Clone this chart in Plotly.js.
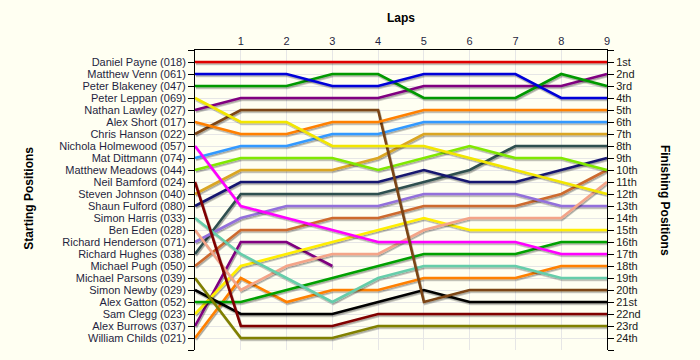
<!DOCTYPE html>
<html>
<head>
<meta charset="utf-8">
<script src="https://cdn.plot.ly/plotly-3.0.1.min.js"></script>
<style>
html, body { margin:0; padding:0; background:#fffff2; }
#chart { width:700px; height:360px; }
.js-plotly-plot .scatterlayer .trace path.js-line { filter: url(#sh); }
</style>
</head>
<body>
<svg width="0" height="0" style="position:absolute">
  <defs>
    <filter id="sh" filterUnits="userSpaceOnUse" x="-100" y="-100" width="2000" height="2000">
      <feDropShadow dx="1" dy="1.6" stdDeviation="0.3" flood-color="#000" flood-opacity="0.35"/>
    </filter>
  </defs>
</svg>
<div id="chart"></div>
<script>
// ---- data ----
const laps = [0, 1, 2, 3, 4, 5, 6, 7, 8, 9];
const lapTicks = [1, 2, 3, 4, 5, 6, 7, 8, 9];

const drivers = [
  "Daniel Payne (018)", "Matthew Venn (061)", "Peter Blakeney (047)", "Peter Leppan (069)",
  "Nathan Lawley (027)", "Alex Short (017)", "Chris Hanson (022)", "Nichola Holmewood (057)",
  "Mat Dittmann (074)", "Matthew Meadows (044)", "Neil Bamford (024)", "Steven Johnson (040)",
  "Shaun Fulford (080)", "Simon Harris (033)", "Ben Eden (028)", "Richard Henderson (071)",
  "Richard Hughes (038)", "Michael Pugh (050)", "Michael Parsons (039)", "Simon Newby (029)",
  "Alex Gatton (052)", "Sam Clegg (023)", "Alex Burrows (037)", "William Childs (021)"
];

const finishLabels = ["1st","2nd","3rd","4th","5th","6th","7th","8th","9th","10th","11th","12th",
  "13th","14th","15th","16th","17th","18th","19th","20th","21st","22nd","23rd","24th"];

// position per lap (lap 0 = start)
const payne      = [1, 1, 1, 1, 1, 1, 1, 1, 1, 1];
const venn       = [2, 2, 2, 3, 3, 2, 2, 2, 4, 4];
const blakeney   = [3, 3, 3, 2, 2, 4, 4, 4, 2, 3];
const leppan     = [4, 6, 6, 8, 8, 8, 9, 10, 11, 12];
const lawley     = [5, 4, 4, 4, 4, 3, 3, 3, 3, 2];
const short      = [6, 7, 7, 6, 6, 5, 5, 5, 5, 5];
const hanson     = [7, 5, 5, 5, 5, 21, 20, 20, 20, 20];
const holmewood  = [8, 13, 14, 15, 16, 16, 16, 16, 17, 17];
const dittmann   = [9, 8, 8, 7, 7, 6, 6, 6, 6, 6];
const meadows    = [10, 9, 9, 9, 10, 9, 8, 9, 9, 10];
const bamford    = [11, 23, 23, 23, 22, 22, 22, 22, 22, 22];
const johnson    = [12, 10, 10, 10, 9, 7, 7, 7, 7, 7];
const fulford    = [13, 11, 11, 11, 11, 10, 11, 11, 10, 9];
const harris     = [14, 17, 19, 21, 19, 18, 18, 18, 19, 19];
const eden       = [15, 20, 18, 17, 17, 15, 14, 14, 14, 11];
const henderson  = [16, 14, 13, 13, 13, 12, 12, 12, 13, 13];
const hughes     = [17, 12, 12, 12, 12, 11, 10, 8, 8, 8];
const pugh       = [18, 15, 15, 14, 14, 13, 13, 13, 12, 10];
const parsons    = [19, 24, 24, 24, 23, 23, 23, 23, 23, 23];
const newby      = [20, 22, 22, 22, 21, 20, 21, 21, 21, 21];
const gatton     = [21, 21, 20, 19, 18, 17, 17, 17, 16, 16];
const clegg      = [22, 18, 17, 16, 15, 14, 15, 15, 15, 15];
const burrows    = [23, 16, 16, 18, null, null, null, null, null, null];
const childs     = [24, 19, 21, 20, 20, 19, 19, 19, 18, 18];

const series = [payne, venn, blakeney, leppan, lawley, short, hanson, holmewood,
  dittmann, meadows, bamford, johnson, fulford, harris, eden, henderson,
  hughes, pugh, parsons, newby, gatton, clegg, burrows, childs];

// ---- styles ----
const colors = ["#e00000", "#0000d8", "#009900", "#f2e600", "#800080", "#ff8000", "#7b4513", "#ff00ff",
  "#3399ff", "#80e800", "#800000", "#daa520", "#191970", "#66cdaa", "#f4a488", "#9370db",
  "#2f4f4f", "#cd6a2e", "#808000", "#000000", "#00a000", "#ffee00", "#800080", "#ff8000"];

const traces = [];
for (let i = series.length - 1; i >= 0; i--) {
  traces.push({
    type: "scatter", mode: "lines", x: laps, y: series[i], name: drivers[i],
    line: { color: colors[i], width: 2.6 }, connectgaps: false, hoverinfo: "skip"
  });
}

const startVals = [0].concat(drivers.map((d, i) => i + 1)).concat([25]);
const startText = [""].concat(drivers).concat([""]);
const finishText = [""].concat(finishLabels).concat([""]);

const fontFam = "Liberation Sans, Arial, sans-serif";
const layout = {
  width: 700, height: 360,
  margin: { l: 195, r: 93, t: 50, b: 10 },
  paper_bgcolor: "#fffff2", plot_bgcolor: "#fffff2",
  showlegend: false,
  font: { family: fontFam, size: 11, color: "#1f1f3f" },
  xaxis: {
    side: "top", range: [0, 9], tickvals: lapTicks, ticktext: lapTicks.map(String),
    showline: true, linecolor: "#000", linewidth: 1, ticks: "",
    showgrid: true, gridcolor: "#e6e6e6", gridwidth: 1, zeroline: false,
    tickfont: { size: 11, color: "#1f1f3f" }, fixedrange: true
  },
  yaxis: {
    range: [25, 0], tickvals: startVals, ticktext: startText,
    showline: true, linecolor: "#000", linewidth: 1, ticks: "outside", ticklen: 6,
    tickcolor: "#000", tickwidth: 1,
    showgrid: true, gridcolor: "#e6e6e6", gridwidth: 1, zeroline: false,
    tickfont: { size: 11, color: "#1f1f3f" }, fixedrange: true
  },
  yaxis2: {
    overlaying: "y", side: "right", range: [25, 0], tickvals: startVals, ticktext: finishText,
    showline: true, linecolor: "#000", linewidth: 1, ticks: "outside", ticklen: 6,
    tickcolor: "#000", tickwidth: 1, showgrid: false, zeroline: false,
    tickfont: { size: 11, color: "#1a1a1a" }, fixedrange: true
  },
  annotations: [
    { text: "<b>Laps</b>", xref: "paper", yref: "paper", x: 0.5, y: 1.107,
      xanchor: "center", yanchor: "middle",
      showarrow: false, font: { size: 12, color: "#000" } },
    { text: "<b>Starting Positions</b>", xref: "paper", yref: "paper", x: -0.405, y: 0.505,
      xanchor: "center", yanchor: "middle",
      textangle: -90, showarrow: false, font: { size: 12, color: "#000" } },
    { text: "<b>Finishing Positions</b>", xref: "paper", yref: "paper", x: 1.141, y: 0.5,
      xanchor: "center", yanchor: "middle",
      textangle: 90, showarrow: false, font: { size: 12, color: "#000" } }
  ]
};

// an empty trace so the right axis is bound to data space
traces.push({ type: "scatter", mode: "lines", x: [], y: [], yaxis: "y2", hoverinfo: "skip", showlegend: false });

Plotly.newPlot("chart", traces, layout, { displayModeBar: false, staticPlot: true });
</script>
</body>
</html>
